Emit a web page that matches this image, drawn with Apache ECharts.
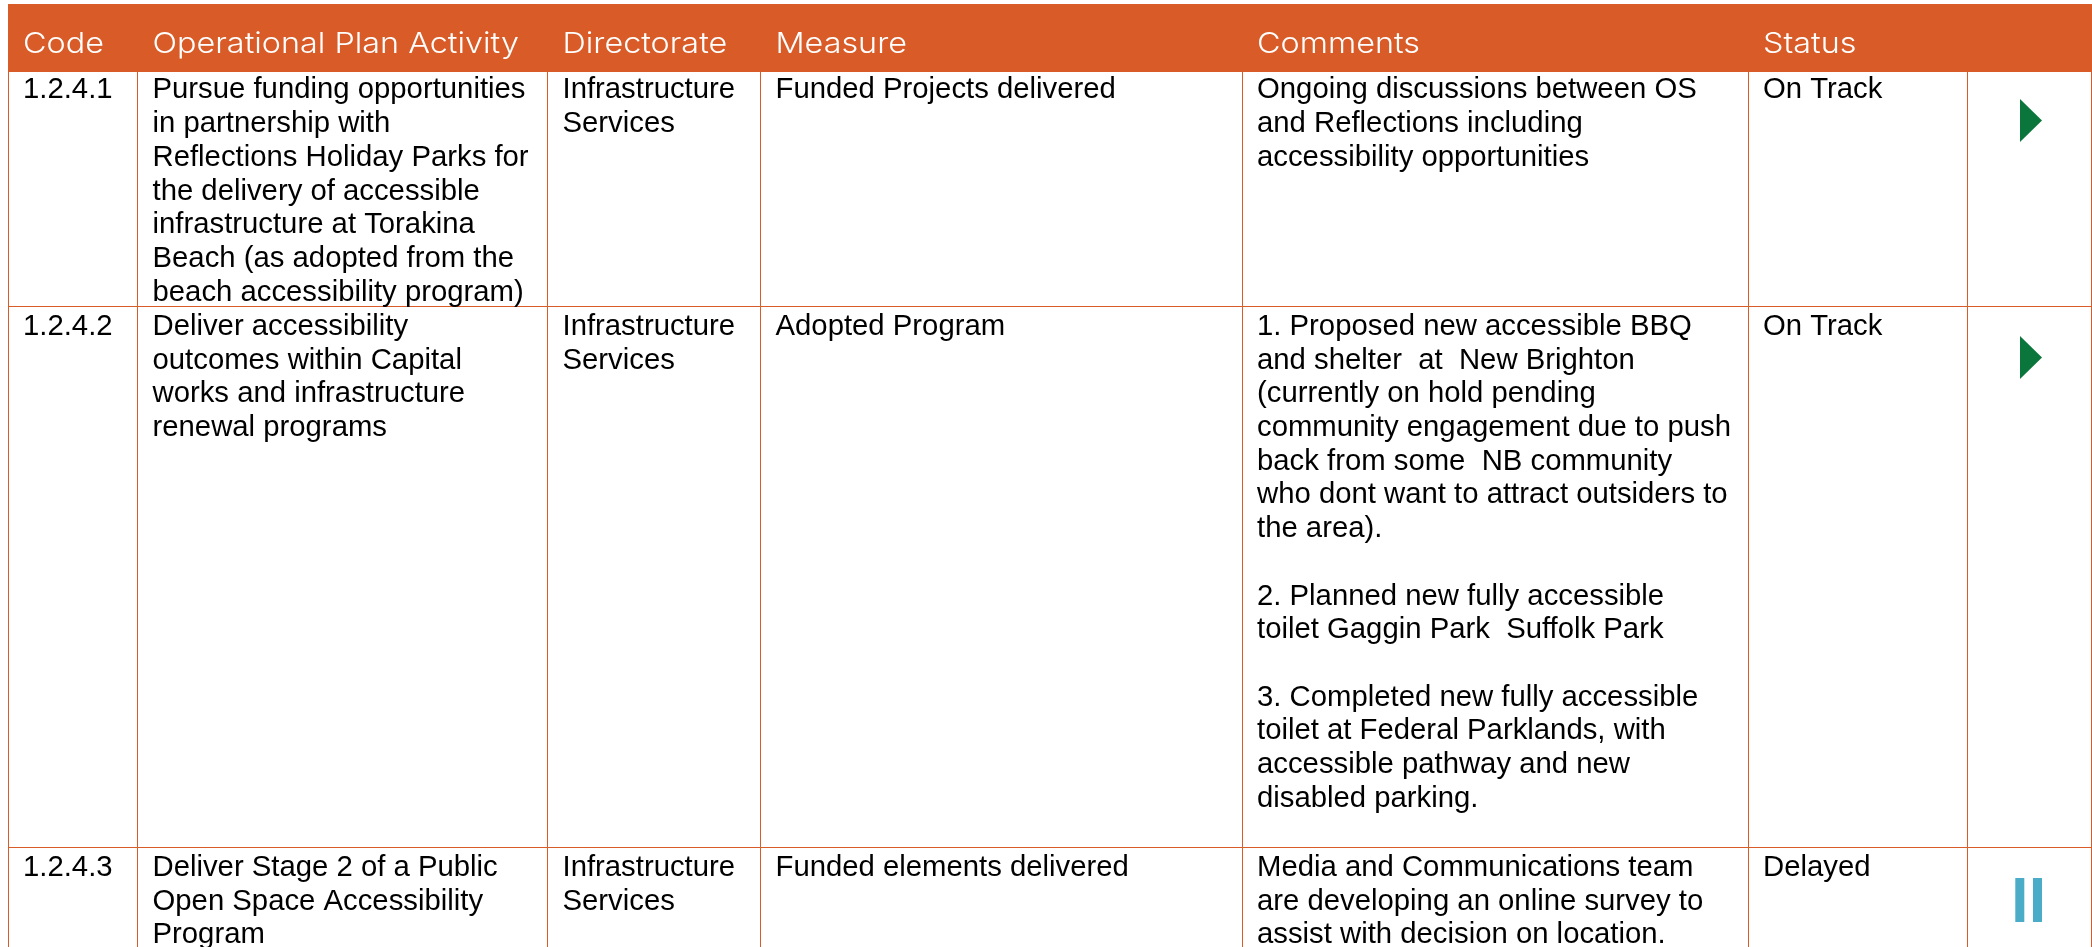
<!DOCTYPE html>
<html><head><meta charset="utf-8">
<style>html,body{margin:0;padding:0;background:#fff}#c{width:2092px;height:947px}</style>
<script src="https://cdn.jsdelivr.net/npm/echarts@6/dist/echarts.min.js"></script>
</head><body><div id="c"></div>
<script>
const headers = ['Code','Operational Plan Activity','Directorate','Measure','Comments','Status',''];
const codes = ['1.2.4.1','1.2.4.2','1.2.4.3'];
const activities = [
 'Pursue funding opportunities\nin partnership with\nReflections Holiday Parks for\nthe delivery of accessible\ninfrastructure at Torakina\nBeach (as adopted from the\nbeach accessibility program)',
 'Deliver accessibility\noutcomes within Capital\nworks and infrastructure\nrenewal programs',
 'Deliver Stage 2 of a Public\nOpen Space Accessibility\nProgram'];
const directorates = ['Infrastructure\nServices','Infrastructure\nServices','Infrastructure\nServices'];
const measures = ['Funded Projects delivered','Adopted Program','Funded elements delivered'];
const comments = [
 'Ongoing discussions between OS\nand Reflections including\naccessibility opportunities',
 '1. Proposed new accessible BBQ\nand shelter  at  New Brighton\n(currently on hold pending\ncommunity engagement due to push\nback from some  NB community\nwho dont want to attract outsiders to\nthe area).\n\n2. Planned new fully accessible\ntoilet Gaggin Park  Suffolk Park\n\n3. Completed new fully accessible\ntoilet at Federal Parklands, with\naccessible pathway and new\ndisabled parking.',
 'Media and Communications team\nare developing an online survey to\nassist with decision on location.'];
const statuses = ['On Track','On Track','Delayed'];
const icons = ['play','play','pause'];
const columnWidths = [129.5,410,213,481.5,506,219,124];
const rowHeights = [235,541,120];
const iconTops = [28,30,31];
const textTops = [2.5,4,4];

const ORANGE='#D95B27', LINE='#D95B27', HEAD_H=67;
const bodyCols=[codes,activities,directorates,measures,comments,statuses];
const cellData=[];
bodyCols.forEach((col,c)=>col.forEach((v,r)=>cellData.push([c,r,v])));
const headData=headers.slice(0,6).map((h,c)=>[c,0,h]);
const iconData=icons.map((k,r)=>[6,r,k]);

const chart=echarts.init(document.getElementById('c'),null,{renderer:'canvas'});
chart.setOption({
 animation:false,
 backgroundColor:'#fff',
 matrix:{
  left:8,top:4,width:2083,height:HEAD_H+rowHeights.reduce((a,b)=>a+b,0),
  x:{
   show:true,levelSize:HEAD_H,
   data:headers.map((h,i)=>({value:h||' ',size:columnWidths[i]})),
   itemStyle:{color:ORANGE,borderColor:ORANGE,borderWidth:1},
   dividerLineStyle:{color:ORANGE,width:1},
   label:{show:false}
  },
  y:{show:false,data:codes.map((c,i)=>({value:c,size:rowHeights[i]}))},
  body:{
   itemStyle:{color:'#fff',borderColor:LINE,borderWidth:1},
   label:{show:false}
  },
  backgroundStyle:{color:'#fff',borderColor:LINE,borderWidth:1}
 },
 series:[
 {
  type:'custom',coordinateSystem:'matrix',data:cellData,encode:{x:0,y:1},silent:true,
  renderItem:(p,api)=>{
   const d=cellData[p.dataIndex], rect=api.layout([d[0],d[1]]).rect;
   return {type:'text',x:rect.x+15,y:rect.y+textTops[d[1]],style:{text:d[2],fill:'#000',fontFamily:'Liberation Sans',fontSize:29.3,lineHeight:33.7,align:'left',verticalAlign:'top'}};
  }
 },
 {
  type:'custom',coordinateSystem:'matrix',data:headData,encode:{x:0,y:1},silent:true,
  renderItem:(p,api)=>{
   const d=headData[p.dataIndex], rect=api.layout([d[0],d[1]]).rect;
   return {type:'text',x:rect.x+15,y:rect.y-HEAD_H+40.5,scaleX:1.115,scaleY:1,style:{text:d[2],fill:'#fff',fontFamily:'Inter',fontWeight:300,fontSize:29,align:'left',verticalAlign:'middle'}};
  }
 },
 {
  type:'custom',coordinateSystem:'matrix',data:iconData,encode:{x:0,y:1},silent:true,
  renderItem:(p,api)=>{
   const d=iconData[p.dataIndex], rect=api.layout([d[0],d[1]]).rect;
   const cx=rect.x+rect.width/2, top=rect.y+iconTops[d[1]];
   if(d[2]==='play'){
    return {type:'polygon',shape:{points:[[cx-9,top],[cx+13,top+21.5],[cx-9,top+43]]},style:{fill:'#0B763B'}};
   }
   return {type:'group',children:[
    {type:'rect',shape:{x:cx-13.7,y:top,width:9,height:44},style:{fill:'#4AACC6'}},
    {type:'rect',shape:{x:cx+4,y:top,width:9,height:44},style:{fill:'#4AACC6'}}]};
  }
 }]
});
</script></body></html>
